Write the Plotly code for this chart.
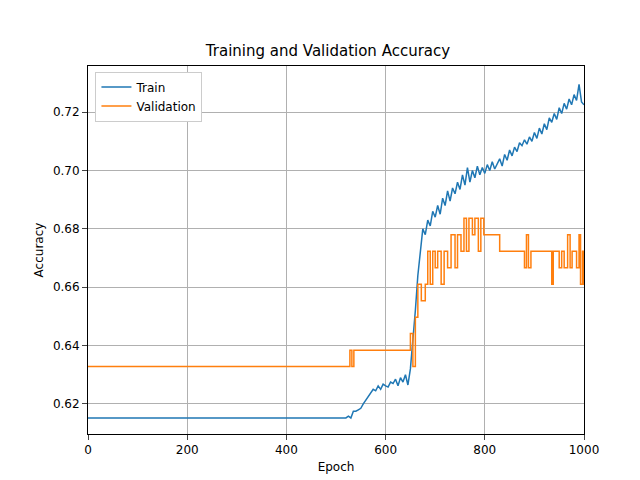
import plotly.graph_objects as go

# train accuracy (flat until ~500, then every 5 epochs)
train_epochs = [0] + list(range(500, 1001, 5))
train_acc = [0.6152,
    .6152, .6152, .6152, .6152, .6152, .6158, .6152, .6175, .6175, .6180,
    .6185, .6200, .6212, .6225, .6235, .6250, .6245, .6262, .6250, .6268,
    .6262, .6258, .6275, .6270, .6285, .6262, .6290, .6275, .6300, .6265,
    .6320, .6410, .6520, .6640, .6720, .6800, .6780, .6830, .6810, .6860,
    .6840, .6880, .6850, .6905, .6880, .6930, .6895, .6940, .6920, .6960,
    .6935, .6985, .6950, .7010, .6960, .7000, .6975, .7015, .6985, .7010,
    .6990, .7020, .7000, .7030, .7005, .7025, .7040, .7015, .7055, .7035,
    .7070, .7050, .7080, .7065, .7095, .7085, .7105, .7090, .7115, .7100,
    .7130, .7110, .7145, .7125, .7160, .7140, .7180, .7165, .7195, .7175,
    .7215, .7195, .7230, .7210, .7245, .7225, .7260, .7240, .7295, .7235,
    .7225]

# validation accuracy, step changes (epoch, value)
val_epochs = [0, 528, 532, 536, 650, 655, 660, 665, 672, 680, 685, 690, 695, 700,
              705, 712, 718, 725, 732, 740, 745, 752, 758, 763, 768, 775, 780,
              787, 792, 798, 830, 880, 884, 888, 893, 935, 938, 950, 955, 960,
              967, 972, 976, 985, 990, 993, 997, 999, 1000]
val_acc = [.6328, .6384, .6328, .6384, .6441, .6328, .6497, .6610, .6554, .6610,
           .6723, .6610, .6723, .6667, .6723, .6610, .6723, .6667, .6780, .6667,
           .6780, .6723, .6836, .6723, .6836, .6780, .6836, .6723, .6836, .6780,
           .6723, .6667, .6780, .6667, .6723, .6610, .6723, .6667, .6723, .6667,
           .6780, .6667, .6723, .6667, .6780, .6610, .6723, .6610, .6610]

fig = go.Figure()
fig.add_scatter(x=train_epochs, y=train_acc, mode="lines", name="Train",
                line=dict(color="#1f77b4", width=1.5))
fig.add_scatter(x=val_epochs, y=val_acc, mode="lines", name="Validation",
                line=dict(color="#ff7f0e", width=1.5, shape="hv"))

axis = dict(showline=True, linecolor="black", mirror=True, ticks="outside",
            showgrid=True, gridcolor="#b0b0b0", zeroline=False, automargin=False,
            tickfont=dict(size=12, color="black"), title_font=dict(size=12),
            title_standoff=6)
fig.update_layout(
    width=640, height=480, plot_bgcolor="white", paper_bgcolor="white",
    font=dict(family="DejaVu Sans", size=12, color="black"),
    margin=dict(l=80, r=64, t=58, b=54),
    title=dict(text="Training and Validation Accuracy", x=0.5, xanchor="center",
               y=0.91, yanchor="middle", font=dict(size=15)),
    legend=dict(x=0.015, y=0.985, xanchor="left", yanchor="top",
                bordercolor="#cccccc", borderwidth=1, bgcolor="white"),
)
fig.update_xaxes(axis, title_text="Epoch", range=[0, 1000], dtick=200)
fig.update_yaxes(axis, title_text="Accuracy", range=[0.6097, 0.7358], dtick=0.02,
                 tickformat=".2f")
fig.write_html("out.html")
